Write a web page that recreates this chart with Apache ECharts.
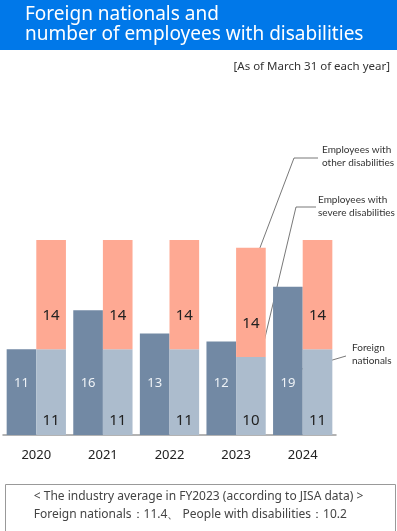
<!DOCTYPE html>
<html>
<head>
<meta charset="utf-8">
<script src="https://cdn.jsdelivr.net/npm/echarts@6/dist/echarts.min.js"></script>
<style>
  html, body { margin: 0; padding: 0; background: #fff; }
  #main { width: 397px; height: 531px; }
</style>
</head>
<body>
<div id="main"></div>
<script>
// データ
var years = ['2020', '2021', '2022', '2023', '2024'];
var foreignNationals = [11, 16, 13, 12, 19];
var severeDisabilities = [11, 11, 11, 10, 11];
var otherDisabilities = [14, 14, 14, 14, 14];

var chart = echarts.init(document.getElementById('main'));
var font = '"Noto Sans", sans-serif';

var option = {
    animation: false,
    textStyle: { fontFamily: font },
    grid: {
        left: 3,
        right: 61,
        top: 201,
        bottom: 96
    },
    xAxis: {
        type: 'category',
        data: years,
        axisLine: { lineStyle: { color: '#9a9a9a', width: 1.5 } },
        axisTick: { show: false },
        axisLabel: { color: '#222', fontSize: 13, margin: 14 }
    },
    yAxis: {
        type: 'value',
        min: 0,
        max: 30,
        show: false
    },
    series: [
        {
            name: 'Foreign nationals',
            type: 'bar',
            data: foreignNationals,
            barGap: 0,
            barCategoryGap: '11%',
            itemStyle: { color: '#7289a4' },
            label: {
                show: true,
                position: 'insideBottom',
                distance: 45,
                color: '#eef2f6',
                fontSize: 13
            }
        },
        {
            name: 'Employees with severe disabilities',
            type: 'bar',
            stack: 'dis',
            data: severeDisabilities,
            itemStyle: { color: '#acbccd' },
            label: {
                show: true,
                position: 'insideBottom',
                distance: 7,
                color: '#222',
                fontSize: 15
            }
        },
        {
            name: 'Employees with other disabilities',
            type: 'bar',
            stack: 'dis',
            data: otherDisabilities,
            itemStyle: { color: '#fea993' },
            label: {
                show: true,
                position: 'insideBottom',
                distance: 26,
                color: '#222',
                fontSize: 15
            }
        }
    ]
};

chart.setOption(option);

// 注記の線（棒の位置から計算）
function px(cat, val, dx) {
    var p = chart.convertToPixel({ gridIndex: 0 }, [cat, val]);
    return [p[0] + dx, p[1]];
}
var barOff = 15;
var pOther = px(3, 21, barOff);   // 2023 other
var pSevere = px(3, 5, barOff);   // 2023 severe
var pForeign = px(4, 8, -barOff + 2); // 2024 foreign

var noteStyle = { fill: '#333', fontSize: 10, fontFamily: 'Lato, sans-serif', lineHeight: 13 };
var lineStyle = { stroke: '#555', lineWidth: 0.8 };

chart.setOption({
    graphic: [
        { type: 'rect', left: 0, top: 0, shape: { width: 397, height: 50 }, style: { fill: '#0078e9' } },
        {
            type: 'text', left: 25, top: 5,
            style: {
                text: 'Foreign nationals and\nnumber of employees with disabilities',
                fill: '#fff', fontSize: 19, lineHeight: 20, fontFamily: font
            }
        },
        {
            type: 'text', right: 7, top: 61,
            style: { text: '[As of March 31 of each year]', fill: '#333', fontSize: 11.5, fontFamily: font }
        },
        // other disabilities
        { type: 'text', left: 322, top: 143, style: Object.assign({ text: 'Employees with\nother disabilities' }, noteStyle) },
        { type: 'polyline', shape: { points: [[318, 158], [294, 158], pOther] }, style: lineStyle },
        // severe disabilities
        { type: 'text', left: 318, top: 193, style: Object.assign({ text: 'Employees with\nsevere disabilities' }, noteStyle) },
        { type: 'polyline', shape: { points: [[316, 207], [296, 207], pSevere] }, style: lineStyle },
        // foreign nationals
        { type: 'text', left: 352, top: 341, style: Object.assign({ text: 'Foreign\nnationals' }, noteStyle) },
        { type: 'polyline', shape: { points: [[346, 356], pForeign] }, style: lineStyle },
        // industry average box
        { type: 'rect', left: 3, top: 482, shape: { width: 390, height: 47 }, style: { fill: 'none', stroke: '#999', lineWidth: 1 } },
        {
            type: 'text', left: 'center', top: 488,
            style: {
                text: '< The industry average in FY2023 (according to JISA data) >\nForeign nationals\uFF1A11.4\u3001 People with disabilities\uFF1A10.2',
                fill: '#444', fontSize: 12, lineHeight: 18, align: 'center', fontFamily: font
            }
        }
    ]
});
</script>
</body>
</html>
